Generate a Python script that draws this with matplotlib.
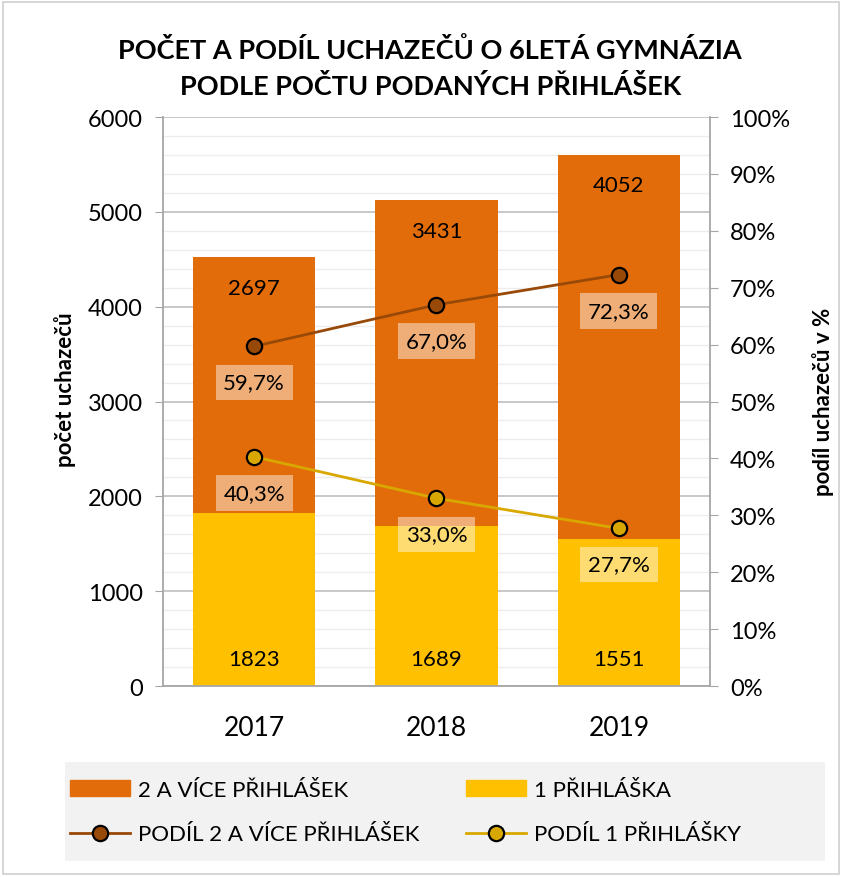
import matplotlib.pyplot as plt
from matplotlib.patches import Rectangle, Patch
from matplotlib.lines import Line2D
from matplotlib.ticker import MultipleLocator, FuncFormatter
import numpy as np

plt.rcParams['font.family'] = ['Lato', 'DejaVu Sans']

years = ['2017', '2018', '2019']
vice = [2697, 3431, 4052]
jedna = [1823, 1689, 1551]
podil_vice = [59.7, 67.0, 72.3]
podil_jedna = [40.3, 33.0, 27.7]

c_vice = '#E36C0A'
c_jedna = '#FFC000'
c_lvice = '#984807'
c_ljedna = '#D9A800'

fig = plt.figure(figsize=(8.42, 8.78), dpi=100)

# grey legend background
fig.patches.append(Rectangle((65 / 842, 1 - 862 / 878), 760 / 842, 99 / 878,
                             transform=fig.transFigure, fc='#F2F2F2', ec='none', zorder=0))
# outer border of the chart
fig.patches.append(Rectangle((0.004, 0.003), 0.992, 0.994, transform=fig.transFigure,
                             fill=False, ec='#D0D0D0', lw=1.2))

ax = fig.add_axes([0.1936, 0.2175, 0.6496, 0.6481])
x = np.arange(len(years))

ax.bar(x, jedna, width=0.67, color=c_jedna, zorder=2)
ax.bar(x, vice, width=0.67, bottom=jedna, color=c_vice, zorder=2)

for i in range(len(years)):
    ax.text(x[i], 285, str(jedna[i]), ha='center', va='center', fontsize=16, zorder=5)
    ax.text(x[i], jedna[i] + vice[i] - 320, str(vice[i]), ha='center', va='center',
            fontsize=16, zorder=5)

ax.set_xlim(-0.5, 2.5)
ax.set_ylim(0, 6000)
ax.yaxis.set_major_locator(MultipleLocator(1000))
ax.yaxis.set_minor_locator(MultipleLocator(200))
ax.grid(axis='y', which='major', color='#BFBFBF', lw=1.2, zorder=0)
ax.grid(axis='y', which='minor', color='#EDEDED', lw=1.0, zorder=0)
ax.set_axisbelow(True)
ax.tick_params(axis='y', which='minor', length=0)
ax.tick_params(axis='y', which='major', length=5.5, color='#A6A6A6', labelsize=17, pad=9)
ax.tick_params(axis='x', length=0, labelsize=19, pad=21)
ax.set_xticks(x)
ax.set_xticklabels(years)
for s in ['top', 'right']:
    ax.spines[s].set_visible(False)
ax.spines['left'].set_color('#A6A6A6')
ax.spines['left'].set_linewidth(1.3)
ax.spines['bottom'].set_color('#A6A6A6')
ax.spines['bottom'].set_linewidth(1.3)

ax2 = ax.twinx()
ax2.set_ylim(0, 100)
ax2.yaxis.set_major_locator(MultipleLocator(10))
ax2.yaxis.set_major_formatter(FuncFormatter(lambda v, p: '%d%%' % v))
ax2.tick_params(axis='y', length=5.5, color='#A6A6A6', labelsize=17, pad=9)
for s in ['top', 'left', 'bottom']:
    ax2.spines[s].set_visible(False)
ax2.spines['right'].set_color('#A6A6A6')
ax2.spines['right'].set_linewidth(1.3)

# axis titles placed in figure coords
fig.text(65 / 842, 1 - 390 / 878, 'počet uchazečů', rotation=90, ha='center',
         va='center', fontsize=16, fontweight='bold')
fig.text(823 / 842, 1 - 402 / 878, 'podíl uchazečů v %', rotation=90, ha='center',
         va='center', fontsize=16, fontweight='bold')

ax2.plot(x, podil_vice, color=c_lvice, lw=2, marker='o', ms=11,
         mfc=c_lvice, mec='black', mew=1.6, zorder=4)
ax2.plot(x, podil_jedna, color=c_ljedna, lw=2, marker='o', ms=11,
         mfc=c_ljedna, mec='black', mew=1.6, zorder=4)

box = dict(boxstyle='square,pad=0.35', fc='white', ec='none', alpha=0.45)
for i in range(len(years)):
    for vals in (podil_vice, podil_jedna):
        ax2.annotate(('%.1f%%' % vals[i]).replace('.', ','), (x[i], vals[i]),
                     xytext=(0, -26), textcoords='offset points', ha='center',
                     va='center', fontsize=16, bbox=box, zorder=5)

fig.suptitle('POČET A PODÍL UCHAZEČŮ O 6LETÁ GYMNÁZIA\nPODLE POČTU PODANÝCH PŘIHLÁŠEK',
             x=0.511, y=0.958, fontsize=19.5, fontweight='bold', linespacing=1.55)

handles = [Patch(color=c_vice),
           Line2D([], [], color=c_lvice, lw=2, marker='o', ms=11, mfc=c_lvice,
                  mec='black', mew=1.6),
           Patch(color=c_jedna),
           Line2D([], [], color=c_ljedna, lw=2, marker='o', ms=11, mfc=c_ljedna,
                  mec='black', mew=1.6)]
labels = ['2 A VÍCE PŘIHLÁŠEK', 'PODÍL 2 A VÍCE PŘIHLÁŠEK', '1 PŘIHLÁŠKA', 'PODÍL 1 PŘIHLÁŠKY']
leg = fig.legend(handles, labels, ncol=2, loc='upper left',
                 bbox_to_anchor=(70 / 842, 1 - 781 / 878), fontsize=16,
                 frameon=False, handlelength=2.7, handletextpad=0.35,
                 labelspacing=1.1, borderpad=0, borderaxespad=0, columnspacing=2.1)

fig.savefig('out.png', dpi=100)
